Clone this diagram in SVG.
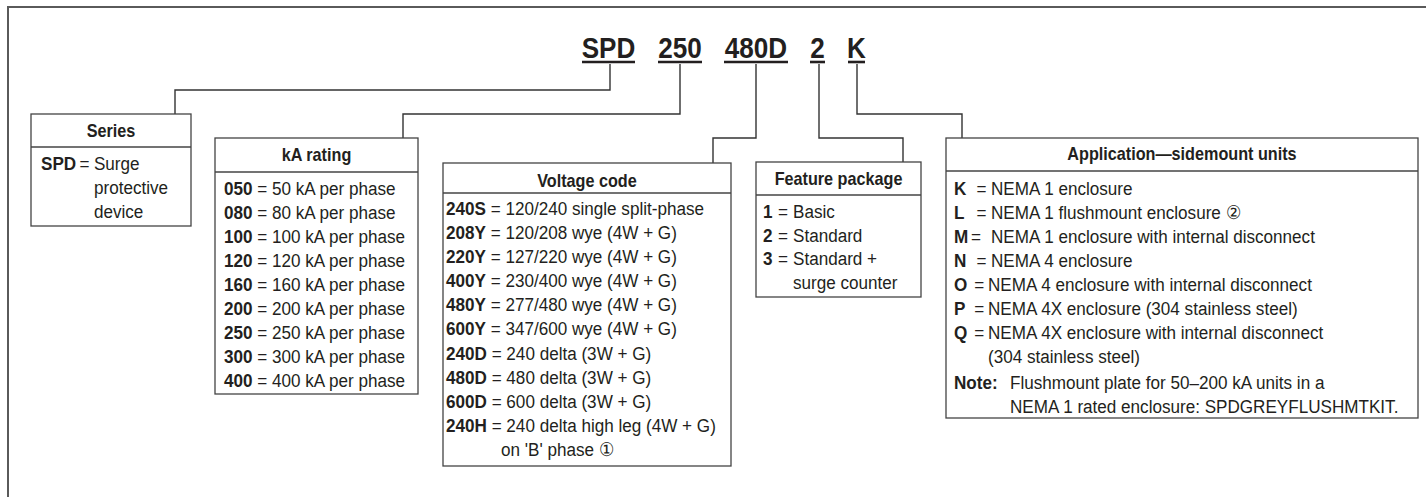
<svg xmlns="http://www.w3.org/2000/svg" width="1426" height="497" viewBox="0 0 1426 497">
<style>
text{font-family:"Liberation Sans",Arial,sans-serif;fill:#231f20;font-size:19px}
.b{font-weight:bold}
.h{font-weight:bold;font-size:18px;text-anchor:middle}
.t{font-weight:bold;font-size:29px;text-anchor:middle}
.box{fill:#fff;stroke:#444;stroke-width:1.3}
.div{stroke:#444;stroke-width:1.3}
.con{fill:none;stroke:#333;stroke-width:1.4}
.ul{stroke:#231f20;stroke-width:2.6}
</style>
<rect width="1426" height="497" fill="#fff"/>
<path d="M8,497 V7 H1426" fill="none" stroke="#5a5a5a" stroke-width="2"/>

<g id="code">
<g transform="scale(0.9 1)">
<text class="t" x="676.1" y="58">SPD</text>
<text class="t" x="755.6" y="58">250</text>
<text class="t" x="840" y="58">480D</text>
<text class="t" x="908.3" y="58">2</text>
<text class="t" x="951.7" y="58">K</text>
</g>
<line class="ul" x1="582" y1="62" x2="635" y2="62"/>
<line class="ul" x1="658" y1="62" x2="702" y2="62"/>
<line class="ul" x1="724" y1="62" x2="788" y2="62"/>
<line class="ul" x1="810" y1="62" x2="825" y2="62"/>
<line class="ul" x1="848" y1="62" x2="865" y2="62"/>
</g>

<g id="connectors">
<path class="con" d="M610,64 V90 H175 V114"/>
<path class="con" d="M680,64 V114 H403 V138"/>
<path class="con" d="M756,64 V138 H713 V163"/>
<path class="con" d="M819,64 V138 H903 V162"/>
<path class="con" d="M857,64 V114 H962 V138"/>
</g>

<g id="series">
<rect class="box" x="31" y="114" width="160" height="112"/>
<line class="div" x1="31" y1="147" x2="191" y2="147"/>
<g transform="scale(0.9 1)">
<text class="h" x="123.3" y="137">Series</text>
<text x="45.6" y="170"><tspan class="b">SPD</tspan><tspan x="88.3">=</tspan><tspan x="104.4">Surge</tspan></text>
<text x="104.4" y="194">protective</text>
<text x="104.4" y="218">device</text>
</g>
</g>

<g id="ka-rating">
<rect class="box" x="215" y="138" width="203" height="256"/>
<line class="div" x1="215" y1="172" x2="418" y2="172"/>
<g transform="scale(0.9 1)">
<text class="h" x="351.7" y="161">kA rating</text>
<text x="248.9" y="195"><tspan class="b">050</tspan> = 50 kA per phase</text>
<text x="248.9" y="219"><tspan class="b">080</tspan> = 80 kA per phase</text>
<text x="248.9" y="243"><tspan class="b">100</tspan> = 100 kA per phase</text>
<text x="248.9" y="267"><tspan class="b">120</tspan> = 120 kA per phase</text>
<text x="248.9" y="291"><tspan class="b">160</tspan> = 160 kA per phase</text>
<text x="248.9" y="315"><tspan class="b">200</tspan> = 200 kA per phase</text>
<text x="248.9" y="339"><tspan class="b">250</tspan> = 250 kA per phase</text>
<text x="248.9" y="363"><tspan class="b">300</tspan> = 300 kA per phase</text>
<text x="248.9" y="387"><tspan class="b">400</tspan> = 400 kA per phase</text>
</g>
</g>

<g id="voltage-code">
<rect class="box" x="443" y="163" width="288" height="303"/>
<line class="div" x1="443" y1="193" x2="731" y2="193"/>
<g transform="scale(0.9 1)">
<text class="h" x="652.2" y="187">Voltage code</text>
<text x="495.6" y="215"><tspan class="b">240S</tspan> = 120/240 single split-phase</text>
<text x="495.6" y="239"><tspan class="b">208Y</tspan> = 120/208 wye (4W + G)</text>
<text x="495.6" y="263"><tspan class="b">220Y</tspan> = 127/220 wye (4W + G)</text>
<text x="495.6" y="287"><tspan class="b">400Y</tspan> = 230/400 wye (4W + G)</text>
<text x="495.6" y="311"><tspan class="b">480Y</tspan> = 277/480 wye (4W + G)</text>
<text x="495.6" y="335"><tspan class="b">600Y</tspan> = 347/600 wye (4W + G)</text>
<text x="495.6" y="360"><tspan class="b">240D</tspan> = 240 delta (3W + G)</text>
<text x="495.6" y="384"><tspan class="b">480D</tspan> = 480 delta (3W + G)</text>
<text x="495.6" y="408"><tspan class="b">600D</tspan> = 600 delta (3W + G)</text>
<text x="495.6" y="432"><tspan class="b">240H</tspan> = 240 delta high leg (4W + G)</text>
<text x="556.7" y="456">on 'B' phase ①</text>
</g>
</g>

<g id="feature-package">
<rect class="box" x="756" y="162" width="165" height="135"/>
<line class="div" x1="756" y1="195" x2="921" y2="195"/>
<g transform="scale(0.9 1)">
<text class="h" x="931.7" y="185">Feature package</text>
<text x="847.8" y="218"><tspan class="b">1</tspan><tspan x="864.4">=</tspan><tspan x="881.1">Basic</tspan></text>
<text x="847.8" y="242"><tspan class="b">2</tspan><tspan x="864.4">=</tspan><tspan x="881.1">Standard</tspan></text>
<text x="847.8" y="265"><tspan class="b">3</tspan><tspan x="864.4">=</tspan><tspan x="881.1">Standard +</tspan></text>
<text x="881.1" y="289">surge counter</text>
</g>
</g>

<g id="application">
<rect class="box" x="946" y="138" width="472" height="280"/>
<line class="div" x1="946" y1="171" x2="1418" y2="171"/>
<g transform="scale(0.9 1)">
<text class="h" x="1313.3" y="160">Application—sidemount units</text>
<text x="1060" y="195"><tspan class="b">K</tspan><tspan x="1085">=</tspan><tspan x="1101.1">NEMA 1 enclosure</tspan></text>
<text x="1060" y="219"><tspan class="b">L</tspan><tspan x="1085">=</tspan><tspan x="1101.1">NEMA 1 flushmount enclosure ②</tspan></text>
<text x="1060" y="243"><tspan class="b">M</tspan><tspan x="1078.9">=</tspan><tspan x="1101.1">NEMA 1 enclosure with internal disconnect</tspan></text>
<text x="1060" y="267"><tspan class="b">N</tspan><tspan x="1085">=</tspan><tspan x="1101.1">NEMA 4 enclosure</tspan></text>
<text x="1060" y="291"><tspan class="b">O</tspan><tspan x="1082.5">=</tspan><tspan x="1097.8">NEMA 4 enclosure with internal disconnect</tspan></text>
<text x="1060" y="315"><tspan class="b">P</tspan><tspan x="1082.5">=</tspan><tspan x="1097.8">NEMA 4X enclosure (304 stainless steel)</tspan></text>
<text x="1060" y="339"><tspan class="b">Q</tspan><tspan x="1082.5">=</tspan><tspan x="1097.8">NEMA 4X enclosure with internal disconnect</tspan></text>
<text x="1097.8" y="363">(304 stainless steel)</text>
<text x="1060" y="389"><tspan class="b">Note:</tspan><tspan x="1122.2">Flushmount plate for 50–200 kA units in a</tspan></text>
<text x="1122.2" y="413">NEMA 1 rated enclosure: SPDGREYFLUSHMTKIT.</text>
</g>
</g>
</svg>
